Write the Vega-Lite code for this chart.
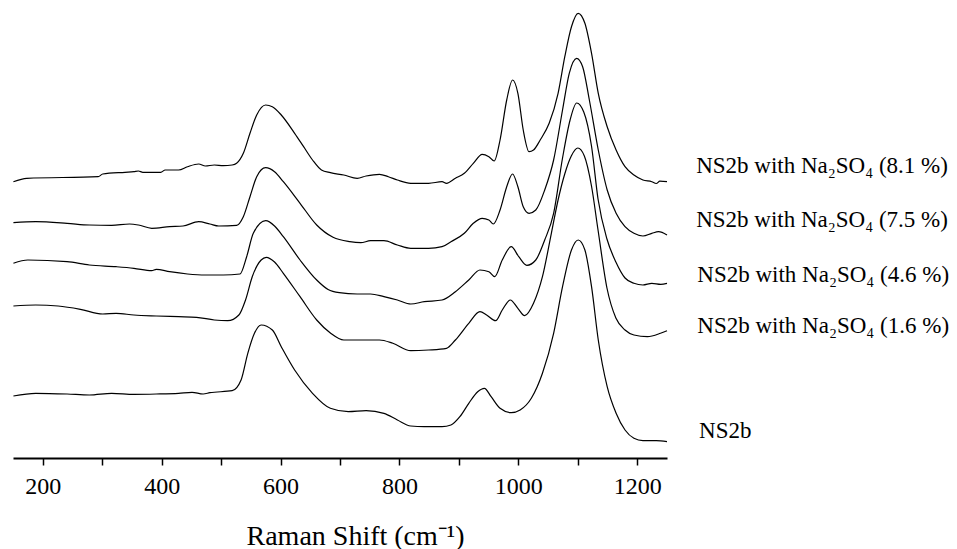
{
  "$schema": "https://vega.github.io/schema/vega-lite/v6.json",
  "width": 654,
  "height": 458,
  "autosize": {"type": "none"},
  "padding": {"left": 13, "top": 0, "right": 290, "bottom": 91},
  "background": "white",
  "config": {"view": {"stroke": null}, "font": "Liberation Serif"},
  "datasets": {
    "spectra": [
      {"s":"8.1","x":150.7,"y":276.3},{"s":"8.1","x":173.2,"y":279.7},{"s":"8.1","x":293.3,"y":281.3},{"s":"8.1","x":300.9,"y":284},{"s":"8.1","x":338.4,"y":285.7},{"s":"8.1","x":353.4,"y":286.3},{"s":"8.1","x":360.9,"y":287},{"s":"8.1","x":368.4,"y":285.7},{"s":"8.1","x":398.5,"y":285.7},{"s":"8.1","x":406,"y":288},{"s":"8.1","x":428.5,"y":288},{"s":"8.1","x":443.5,"y":291.3},{"s":"8.1","x":462.3,"y":294},{"s":"8.1","x":473.6,"y":292},{"s":"8.1","x":488.6,"y":293},{"s":"8.1","x":503.6,"y":292.3},{"s":"8.1","x":518.6,"y":293},{"s":"8.1","x":526.1,"y":294.7},{"s":"8.1","x":537.4,"y":304.7},{"s":"8.1","x":548.6,"y":324.7},{"s":"8.1","x":559.9,"y":343},{"s":"8.1","x":574.9,"y":353},{"s":"8.1","x":586.2,"y":351.3},{"s":"8.1","x":601.2,"y":343},{"s":"8.1","x":623.7,"y":324.7},{"s":"8.1","x":638.8,"y":311.3},{"s":"8.1","x":653.8,"y":298},{"s":"8.1","x":668.8,"y":288},{"s":"8.1","x":683.8,"y":285.3},{"s":"8.1","x":706.4,"y":283},{"s":"8.1","x":728.9,"y":279.7},{"s":"8.1","x":743.9,"y":282},{"s":"8.1","x":766.4,"y":283.7},{"s":"8.1","x":781.4,"y":281.3},{"s":"8.1","x":796.5,"y":278},{"s":"8.1","x":819,"y":274.7},{"s":"8.1","x":849,"y":274.7},{"s":"8.1","x":871.6,"y":276.3},{"s":"8.1","x":879.1,"y":274.7},{"s":"8.1","x":894.1,"y":279.7},{"s":"8.1","x":909.1,"y":284.7},{"s":"8.1","x":924.2,"y":294.7},{"s":"8.1","x":939.2,"y":303.7},{"s":"8.1","x":950.4,"y":301.3},{"s":"8.1","x":959.4,"y":297},{"s":"8.1","x":969.2,"y":318},{"s":"8.1","x":980.4,"y":358},{"s":"8.1","x":990.2,"y":378},{"s":"8.1","x":999.2,"y":364.7},{"s":"8.1","x":1008.2,"y":328},{"s":"8.1","x":1018,"y":306.3},{"s":"8.1","x":1025.5,"y":308},{"s":"8.1","x":1036.7,"y":318},{"s":"8.1","x":1051.8,"y":334.7},{"s":"8.1","x":1066.8,"y":364.7},{"s":"8.1","x":1078.1,"y":401.3},{"s":"8.1","x":1089.3,"y":431.3},{"s":"8.1","x":1100.6,"y":444.7},{"s":"8.1","x":1111.9,"y":434.7},{"s":"8.1","x":1123.1,"y":404.7},{"s":"8.1","x":1134.4,"y":364.7},{"s":"8.1","x":1149.4,"y":331.3},{"s":"8.1","x":1164.4,"y":308},{"s":"8.1","x":1179.4,"y":291.3},{"s":"8.1","x":1194.4,"y":283},{"s":"8.1","x":1209.5,"y":278},{"s":"8.1","x":1224.5,"y":276.3},{"s":"8.1","x":1232,"y":274.5},{"s":"8.1","x":1238,"y":276.8},{"s":"8.1","x":1250,"y":276.3},

      {"s":"7.5","x":150.7,"y":235.3},{"s":"7.5","x":188.2,"y":236.3},{"s":"7.5","x":240.9,"y":234.7},{"s":"7.5","x":278.4,"y":233},{"s":"7.5","x":316,"y":232.7},{"s":"7.5","x":346,"y":234},{"s":"7.5","x":361,"y":233},{"s":"7.5","x":383.4,"y":229.7},{"s":"7.5","x":413.5,"y":231.3},{"s":"7.5","x":436,"y":232},{"s":"7.5","x":462.3,"y":236.3},{"s":"7.5","x":481.1,"y":234},{"s":"7.5","x":496.1,"y":232},{"s":"7.5","x":526.1,"y":232.7},{"s":"7.5","x":537.4,"y":241.3},{"s":"7.5","x":548.6,"y":261.3},{"s":"7.5","x":559.9,"y":281.3},{"s":"7.5","x":574.9,"y":290.3},{"s":"7.5","x":589.9,"y":286.3},{"s":"7.5","x":604.7,"y":276.3},{"s":"7.5","x":632.8,"y":254.7},{"s":"7.5","x":660.8,"y":233},{"s":"7.5","x":688.3,"y":220.7},{"s":"7.5","x":716.4,"y":216.3},{"s":"7.5","x":735,"y":215.3},{"s":"7.5","x":751.4,"y":217.3},{"s":"7.5","x":773.9,"y":217.3},{"s":"7.5","x":796.5,"y":213},{"s":"7.5","x":819,"y":209.7},{"s":"7.5","x":849,"y":209.7},{"s":"7.5","x":871.6,"y":211.3},{"s":"7.5","x":886.6,"y":216.3},{"s":"7.5","x":909.1,"y":224.7},{"s":"7.5","x":924.2,"y":234.7},{"s":"7.5","x":939.2,"y":239.7},{"s":"7.5","x":950.4,"y":238},{"s":"7.5","x":957.9,"y":234},{"s":"7.5","x":969.2,"y":248},{"s":"7.5","x":980.4,"y":271.3},{"s":"7.5","x":990.2,"y":284},{"s":"7.5","x":999.2,"y":271.3},{"s":"7.5","x":1008.2,"y":251.3},{"s":"7.5","x":1018,"y":244.7},{"s":"7.5","x":1029.3,"y":248},{"s":"7.5","x":1044.3,"y":268},{"s":"7.5","x":1059.3,"y":298},{"s":"7.5","x":1074.3,"y":348},{"s":"7.5","x":1085.6,"y":384.7},{"s":"7.5","x":1098,"y":399.7},{"s":"7.5","x":1108.1,"y":391.3},{"s":"7.5","x":1119.4,"y":358},{"s":"7.5","x":1134.4,"y":308},{"s":"7.5","x":1149.4,"y":268},{"s":"7.5","x":1164.4,"y":244.7},{"s":"7.5","x":1179.4,"y":231.3},{"s":"7.5","x":1194.4,"y":224.7},{"s":"7.5","x":1209.5,"y":222},{"s":"7.5","x":1224.5,"y":224.7},{"s":"7.5","x":1235.8,"y":226.3},{"s":"7.5","x":1250,"y":223},

      {"s":"4.6","x":150.7,"y":194.7},{"s":"4.6","x":175,"y":198},{"s":"4.6","x":240.9,"y":196.3},{"s":"4.6","x":278.4,"y":193},{"s":"4.6","x":323.5,"y":191.3},{"s":"4.6","x":353.4,"y":189.7},{"s":"4.6","x":383.4,"y":187.3},{"s":"4.6","x":391,"y":188.7},{"s":"4.6","x":413.5,"y":186.3},{"s":"4.6","x":443.5,"y":184},{"s":"4.6","x":473.6,"y":183},{"s":"4.6","x":503.6,"y":183},{"s":"4.6","x":531.8,"y":184},{"s":"4.6","x":543,"y":201.3},{"s":"4.6","x":554.2,"y":224.7},{"s":"4.6","x":575,"y":237.3},{"s":"4.6","x":589.9,"y":232},{"s":"4.6","x":604.7,"y":221.3},{"s":"4.6","x":632.8,"y":198},{"s":"4.6","x":660.8,"y":178},{"s":"4.6","x":680,"y":168.5},{"s":"4.6","x":698.8,"y":165.3},{"s":"4.6","x":728.9,"y":164},{"s":"4.6","x":751.4,"y":164},{"s":"4.6","x":773.9,"y":161.3},{"s":"4.6","x":796.5,"y":158},{"s":"4.6","x":819,"y":154},{"s":"4.6","x":841.6,"y":156.3},{"s":"4.6","x":871.6,"y":158},{"s":"4.6","x":894.1,"y":166.3},{"s":"4.6","x":916.6,"y":178},{"s":"4.6","x":935.4,"y":188},{"s":"4.6","x":950.4,"y":186.3},{"s":"4.6","x":960.2,"y":181.3},{"s":"4.6","x":972.9,"y":198},{"s":"4.6","x":987.9,"y":211.3},{"s":"4.6","x":1000.7,"y":201.3},{"s":"4.6","x":1014.2,"y":192.7},{"s":"4.6","x":1029.3,"y":198},{"s":"4.6","x":1044.3,"y":218},{"s":"4.6","x":1059.3,"y":244.7},{"s":"4.6","x":1074.3,"y":300},{"s":"4.6","x":1087,"y":338},{"s":"4.6","x":1098,"y":355},{"s":"4.6","x":1110,"y":346},{"s":"4.6","x":1123,"y":312},{"s":"4.6","x":1134,"y":259},{"s":"4.6","x":1149,"y":219},{"s":"4.6","x":1164,"y":196},{"s":"4.6","x":1179.4,"y":180},{"s":"4.6","x":1194.4,"y":174.7},{"s":"4.6","x":1209.5,"y":173},{"s":"4.6","x":1224.5,"y":174.7},{"s":"4.6","x":1239.5,"y":173.7},{"s":"4.6","x":1250,"y":174.7},

      {"s":"1.6","x":150.7,"y":152},{"s":"1.6","x":188.2,"y":153},{"s":"1.6","x":225.8,"y":152},{"s":"1.6","x":263.3,"y":148.7},{"s":"1.6","x":300.9,"y":144},{"s":"1.6","x":323.5,"y":144.7},{"s":"1.6","x":353.4,"y":143},{"s":"1.6","x":391,"y":142},{"s":"1.6","x":428.5,"y":141.3},{"s":"1.6","x":458.6,"y":140.7},{"s":"1.6","x":488.6,"y":138},{"s":"1.6","x":511.1,"y":137.3},{"s":"1.6","x":529.9,"y":143},{"s":"1.6","x":541.1,"y":158},{"s":"1.6","x":552.4,"y":181.3},{"s":"1.6","x":567.4,"y":198},{"s":"1.6","x":576,"y":200.7},{"s":"1.6","x":589.9,"y":196},{"s":"1.6","x":604.7,"y":184.7},{"s":"1.6","x":632.8,"y":161.3},{"s":"1.6","x":660.8,"y":138},{"s":"1.6","x":683.8,"y":125},{"s":"1.6","x":706.4,"y":118},{"s":"1.6","x":728.9,"y":118},{"s":"1.6","x":766.4,"y":118},{"s":"1.6","x":788.9,"y":114.7},{"s":"1.6","x":819,"y":107.3},{"s":"1.6","x":849,"y":108},{"s":"1.6","x":879.1,"y":109.7},{"s":"1.6","x":894.1,"y":118},{"s":"1.6","x":916.6,"y":134.7},{"s":"1.6","x":935.4,"y":146.3},{"s":"1.6","x":946.6,"y":143},{"s":"1.6","x":961.7,"y":137.3},{"s":"1.6","x":972.9,"y":148},{"s":"1.6","x":986.4,"y":158},{"s":"1.6","x":999.2,"y":149.7},{"s":"1.6","x":1010.5,"y":142.3},{"s":"1.6","x":1025.5,"y":154.7},{"s":"1.6","x":1040.5,"y":181.3},{"s":"1.6","x":1055.5,"y":224.7},{"s":"1.6","x":1066.8,"y":258},{"s":"1.6","x":1078,"y":284},{"s":"1.6","x":1089,"y":302},{"s":"1.6","x":1100,"y":310},{"s":"1.6","x":1111,"y":302},{"s":"1.6","x":1123,"y":272},{"s":"1.6","x":1134,"y":228},{"s":"1.6","x":1149,"y":170},{"s":"1.6","x":1164,"y":140},{"s":"1.6","x":1179.4,"y":128},{"s":"1.6","x":1194.4,"y":123},{"s":"1.6","x":1217,"y":121.3},{"s":"1.6","x":1239,"y":124.7},{"s":"1.6","x":1250,"y":127.3},

      {"s":"0","x":150.7,"y":62},{"s":"0","x":188.2,"y":64.7},{"s":"0","x":240.9,"y":64},{"s":"0","x":278.4,"y":63},{"s":"0","x":316,"y":64.7},{"s":"0","x":353.4,"y":63.7},{"s":"0","x":391,"y":64},{"s":"0","x":428.5,"y":64.7},{"s":"0","x":451.1,"y":65.7},{"s":"0","x":469.8,"y":64},{"s":"0","x":481.1,"y":65.3},{"s":"0","x":518.6,"y":67.3},{"s":"0","x":533.6,"y":78},{"s":"0","x":544.9,"y":104.7},{"s":"0","x":556.1,"y":124.7},{"s":"0","x":567.4,"y":133},{"s":"0","x":586.2,"y":128},{"s":"0","x":601.2,"y":111.3},{"s":"0","x":623.7,"y":88},{"s":"0","x":653.8,"y":64.7},{"s":"0","x":683.8,"y":49.7},{"s":"0","x":713.9,"y":46.3},{"s":"0","x":743.9,"y":47.3},{"s":"0","x":773.9,"y":44.7},{"s":"0","x":796.5,"y":38},{"s":"0","x":819,"y":32},{"s":"0","x":841.6,"y":31.3},{"s":"0","x":871.6,"y":31.3},{"s":"0","x":886.6,"y":33},{"s":"0","x":901.6,"y":41.3},{"s":"0","x":916.6,"y":54.7},{"s":"0","x":931.6,"y":66.3},{"s":"0","x":942.9,"y":69.7},{"s":"0","x":954.2,"y":61.3},{"s":"0","x":969.2,"y":49.7},{"s":"0","x":988,"y":45.3},{"s":"0","x":1003,"y":48},{"s":"0","x":1021.8,"y":59.7},{"s":"0","x":1040.5,"y":84.7},{"s":"0","x":1059.3,"y":124.7},{"s":"0","x":1074.3,"y":171.3},{"s":"0","x":1089.3,"y":208},{"s":"0","x":1100.6,"y":218},{"s":"0","x":1111.9,"y":208},{"s":"0","x":1123.1,"y":171.3},{"s":"0","x":1134.4,"y":118},{"s":"0","x":1149.4,"y":71.3},{"s":"0","x":1164.4,"y":44.7},{"s":"0","x":1179.4,"y":28},{"s":"0","x":1194.4,"y":19.7},{"s":"0","x":1209.5,"y":17.3},{"s":"0","x":1232,"y":17.3},{"s":"0","x":1250,"y":16.3}
    ],
    "labels": [
      {"label":"NS2b with Na₂SO₄ (8.1 %)","x":1299,"y":285.3},
      {"label":"NS2b with Na₂SO₄ (7.5 %)","x":1299,"y":230.7},
      {"label":"NS2b with Na₂SO₄ (4.6 %)","x":1301,"y":176.3},
      {"label":"NS2b with Na₂SO₄ (1.6 %)","x":1301,"y":125},
      {"label":"NS2b","x":1304,"y":19.7}
    ]
  },
  "layer": [
    {
      "data": {"name": "spectra"},
      "mark": {"type": "line", "color": "black", "strokeWidth": 1.2, "interpolate": "monotone"},
      "encoding": {
        "x": {
          "field": "x", "type": "quantitative",
          "scale": {"domain": [150, 1250], "nice": false, "zero": false},
          "axis": {
            "title": "Raman Shift (cm⁻¹)",
            "values": [200, 300, 400, 500, 600, 700, 800, 900, 1000, 1100, 1200],
            "format": "d",
            "labelExpr": "datum.value % 200 === 0 ? datum.label : ''",
            "tickSize": 7,
            "tickWidth": 1.5,
            "tickColor": "black",
            "domainColor": "black",
            "domainWidth": 1.8,
            "grid": false,
            "labelFont": "Liberation Serif",
            "labelFontSize": 24,
            "labelColor": "black",
            "labelPadding": 9,
            "labelFlush": false,
            "labelOverlap": false,
            "titleFont": "Liberation Serif",
            "titleFontSize": 28,
            "titleFontWeight": "normal",
            "titleColor": "black",
            "titleBaseline": "alphabetic",
            "titleAlign": "center",
            "titleX": 342,
            "titleY": 86
          }
        },
        "y": {"field": "y", "type": "quantitative", "scale": {"domain": [0, 458], "nice": false}, "axis": null},
        "detail": {"field": "s"}
      }
    },
    {
      "data": {"name": "labels"},
      "mark": {"type": "text", "align": "left", "baseline": "alphabetic", "fontSize": 23, "font": "Liberation Serif", "color": "black"},
      "encoding": {
        "x": {"field": "x", "type": "quantitative"},
        "y": {"field": "y", "type": "quantitative"},
        "text": {"field": "label"}
      }
    }
  ]
}
